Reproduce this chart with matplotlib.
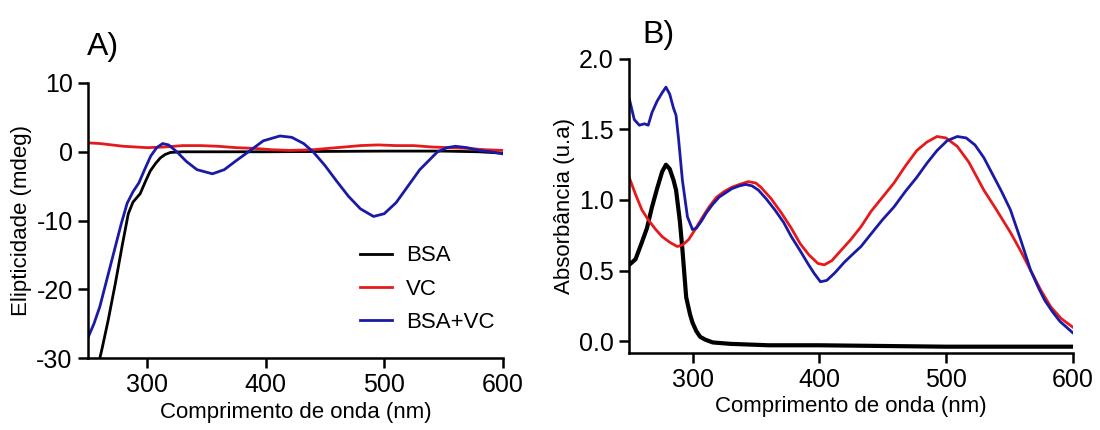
import matplotlib
matplotlib.use("Agg")
import matplotlib.pyplot as plt

plt.rcParams['font.family'] = ['Liberation Sans', 'DejaVu Sans']
plt.rcParams['axes.unicode_minus'] = False

# Panel A: circular dichroism (mdeg)
wl_a_bsa = [258, 262, 267, 273, 279, 284, 288, 294, 298, 302.5, 307, 311, 315,
            319.5, 330, 360, 400, 450, 500, 550, 580, 600]
cd_bsa = [-31.5, -28.5, -24.5, -19.2, -13.5, -9.0, -7.3, -6.1, -4.5, -2.8, -1.7, -0.9,
          -0.4, -0.1, 0.0, 0.0, 0.0, 0.05, 0.1, 0.1, 0.0, -0.2]

wl_a_vc = [250, 260, 270, 280, 290, 300, 315, 330, 345, 360, 375, 390, 405, 420, 440,
           460, 480, 495, 510, 525, 540, 555, 570, 585, 600]
cd_vc = [1.3, 1.2, 1.0, 0.8, 0.7, 0.6, 0.7, 0.9, 0.9, 0.8, 0.6, 0.5, 0.3, 0.2, 0.3,
         0.6, 0.9, 1.0, 0.9, 0.9, 0.7, 0.6, 0.5, 0.3, 0.2]

wl_a_mix = [250, 255, 260, 266, 272, 278, 283, 288, 293, 298, 303, 308, 313, 318,
            325, 333, 342, 355, 365, 375, 387, 398, 412, 422, 432, 440, 450, 460,
            470, 480, 491, 500, 510, 520, 530, 545, 553, 560, 570, 580, 590, 600]
cd_mix = [-27, -25, -22.5, -18.5, -14.5, -10.5, -7.5, -5.8, -4.5, -2.5, -0.6, 0.6, 1.2,
          1.0, 0.0, -1.4, -2.6, -3.2, -2.6, -1.3, 0.2, 1.6, 2.3, 2.1, 1.2, 0.0, -2.0,
          -4.3, -6.5, -8.3, -9.4, -9.0, -7.4, -5.0, -2.6, 0.0, 0.6, 0.8, 0.6, 0.2, 0.0,
          -0.3]

# Panel B: UV-vis absorbance
wl_b_bsa = [250, 255, 260, 264, 268, 272, 276, 279, 282, 285, 287, 290, 292, 295, 298,
            300, 303, 306, 310, 316, 330, 360, 400, 450, 500, 550, 600]
abs_bsa = [0.54, 0.58, 0.70, 0.80, 0.95, 1.08, 1.20, 1.25, 1.22, 1.14, 1.07, 0.85, 0.65,
           0.31, 0.19, 0.13, 0.07, 0.03, 0.01, -0.01, -0.02, -0.03, -0.03, -0.035,
           -0.04, -0.04, -0.04]

wl_b_vc = [250, 255, 260, 265, 271, 276, 282, 288, 292, 297, 302, 308, 313, 319, 325,
           331, 337, 344, 350, 354, 362, 370, 378, 385, 392, 399, 404, 410, 418, 425,
           433, 441, 450, 459, 468, 477, 485, 493, 500, 509, 518, 530, 540, 551, 559,
           567, 575, 583, 591, 600]
abs_vc = [1.16, 1.04, 0.93, 0.86, 0.79, 0.74, 0.70, 0.67, 0.68, 0.72, 0.79, 0.88, 0.95,
          1.02, 1.06, 1.09, 1.11, 1.13, 1.12, 1.09, 1.01, 0.91, 0.80, 0.69, 0.61, 0.55,
          0.54, 0.57, 0.65, 0.72, 0.81, 0.92, 1.02, 1.12, 1.24, 1.35, 1.41, 1.45, 1.44,
          1.38, 1.27, 1.07, 0.93, 0.77, 0.64, 0.50, 0.36, 0.24, 0.16, 0.10]

wl_b_mix = [250, 254, 258, 262, 265, 268, 272, 276, 279, 282, 285, 287, 289, 292, 296,
            300, 303, 307, 311, 316, 321, 326, 331, 337, 342, 347, 352, 358, 365, 372,
            378, 385, 391, 396, 401, 406, 412, 420, 427, 433, 441, 450, 459, 468, 477,
            485, 493, 501, 509, 516, 523, 530, 537, 544, 551, 559, 567, 573, 578, 584,
            590, 595, 600]
abs_mix = [1.72, 1.57, 1.53, 1.54, 1.53, 1.62, 1.70, 1.76, 1.80, 1.75, 1.65, 1.60, 1.43,
           1.14, 0.88, 0.79, 0.80, 0.85, 0.91, 0.97, 1.02, 1.05, 1.08, 1.10, 1.11, 1.10,
           1.07, 1.01, 0.93, 0.84, 0.74, 0.64, 0.55, 0.48, 0.42, 0.43, 0.48, 0.56, 0.62,
           0.67, 0.76, 0.86, 0.95, 1.06, 1.16, 1.26, 1.35, 1.42, 1.45, 1.44, 1.39, 1.30,
           1.18, 1.06, 0.93, 0.72, 0.50, 0.38, 0.29, 0.21, 0.14, 0.10, 0.06]

black = "#000000"
red = "#e51a1c"
blue = "#1a1aa6"

fig = plt.figure(figsize=(11, 4.3), dpi=100)
ax_a = fig.add_axes([0.080, 0.167, 0.377, 0.640])
ax_b = fig.add_axes([0.572, 0.179, 0.403, 0.684])

ax_a.plot(wl_a_bsa, cd_bsa, color=black, lw=2.0, label="BSA")
ax_a.plot(wl_a_vc, cd_vc, color=red, lw=2.0, label="VC")
ax_a.plot(wl_a_mix, cd_mix, color=blue, lw=2.0, label="BSA+VC")
ax_a.set_xlim(250, 600)
ax_a.set_ylim(-30, 10)
ax_a.set_xticks([300, 400, 500, 600])
ax_a.set_yticks([-30, -20, -10, 0, 10])
ax_a.set_xlabel("Comprimento de onda (nm)", fontsize=16, labelpad=3)
ax_a.set_ylabel("Elipticidade (mdeg)", fontsize=16, labelpad=3)
ax_a.legend(loc="upper left", bbox_to_anchor=(0.655, 0.41), frameon=False,
            fontsize=16, handlelength=1.45, handletextpad=0.65,
            labelspacing=0.55, borderpad=0, borderaxespad=0)
fig.text(0.079, 0.872, "A)", fontsize=23)

ax_b.plot(wl_b_bsa, abs_bsa, color=black, lw=3.0)
ax_b.plot(wl_b_vc, abs_vc, color=red, lw=2.0)
ax_b.plot(wl_b_mix, abs_mix, color=blue, lw=2.0)
ax_b.set_xlim(250, 600)
ax_b.set_ylim(-0.085, 2.0)
ax_b.set_xticks([300, 400, 500, 600])
ax_b.set_yticks([0.0, 0.5, 1.0, 1.5, 2.0])
ax_b.set_yticklabels(["0.0", "0.5", "1.0", "1.5", "2.0"])
ax_b.set_xlabel("Comprimento de onda (nm)", fontsize=16, labelpad=3)
ax_b.set_ylabel("Absorbância (u.a)", fontsize=16, labelpad=3)
fig.text(0.584, 0.900, "B)", fontsize=23)

for ax in (ax_a, ax_b):
    for side in ("top", "right"):
        ax.spines[side].set_visible(False)
    for side in ("left", "bottom"):
        ax.spines[side].set_linewidth(1.8)
    ax.tick_params(direction="out", length=7, width=1.8, labelsize=18, pad=4)

fig.savefig("out.png", dpi=100)
